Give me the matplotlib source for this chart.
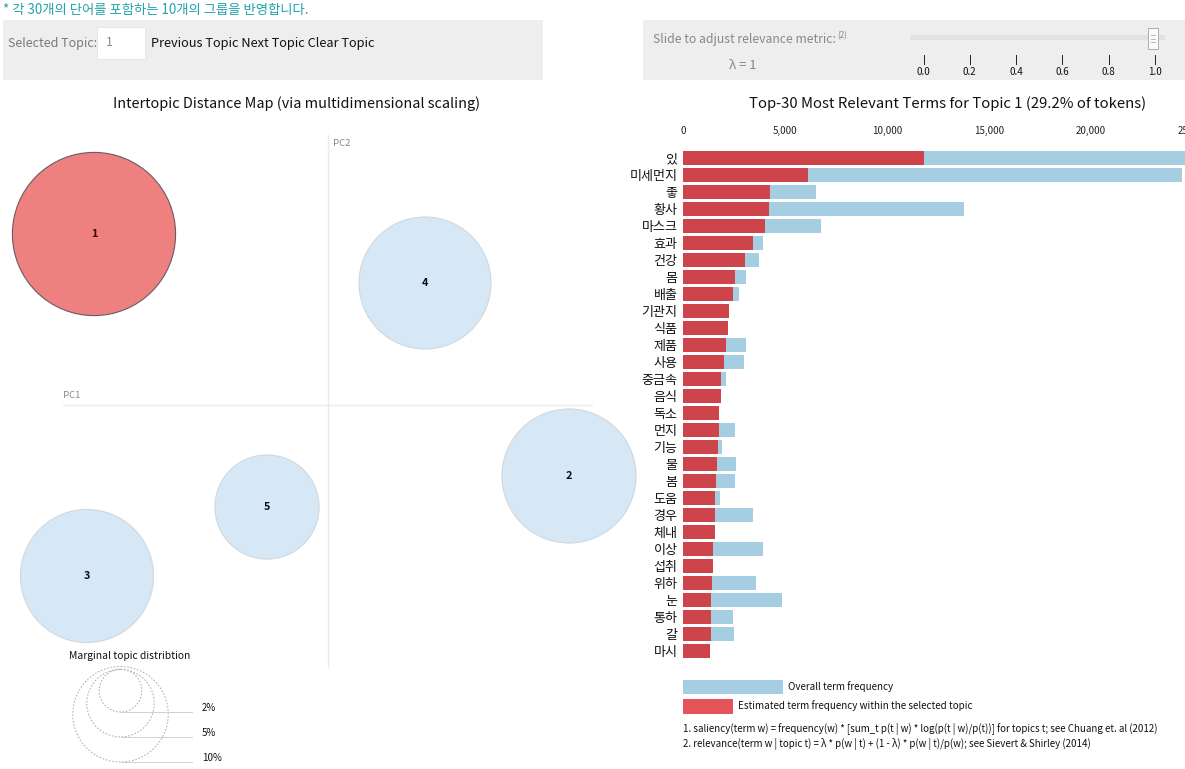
import matplotlib
matplotlib.use('Agg')
import matplotlib.pyplot as plt
from matplotlib.patches import Rectangle, Circle
from matplotlib.ticker import FuncFormatter
import numpy as np

plt.rcParams['font.family'] = ['Noto Sans CJK KR', 'DejaVu Sans']

# ---- data ----
terms = ['있', '미세먼지', '좋', '황사', '마스크', '효과', '건강', '몸', '배출', '기관지',
         '식품', '제품', '사용', '중금속', '음식', '독소', '먼지', '기능', '물', '봄',
         '도움', '경우', '체내', '이상', '섭취', '위하', '눈', '통하', '갈', '마시']
overall_freq = [26000, 24480, 6520, 13780, 6765, 3920, 3725, 3110, 2740, 2260,
                2220, 3090, 2990, 2110, 1880, 1770, 2550, 1910, 2600, 2550,
                1810, 3430, 1550, 3920, 1490, 3580, 4850, 2450, 2480, 1330]
topic_freq = [11800, 6130, 4255, 4205, 4010, 3410, 3040, 2550, 2450, 2250,
              2210, 2130, 2020, 1860, 1860, 1760, 1760, 1700, 1680, 1630,
              1570, 1550, 1550, 1480, 1480, 1420, 1390, 1390, 1360, 1320]

topic_ids = [1, 2, 3, 4, 5]
pc1 = [-0.234, 0.241, -0.241, 0.097, -0.061]
pc2 = [0.171, -0.071, -0.171, 0.122, -0.102]
topic_share = [29.2, 19.7, 19.4, 19.1, 11.9]   # % of tokens
legend_share = [2, 5, 10]
slider_ticks = [0.0, 0.2, 0.4, 0.6, 0.8, 1.0]
lam = 1.0

W, H = 1185, 769
fig = plt.figure(figsize=(W / 100, H / 100), dpi=100)


def frac(x0, y0, x1, y1):
    return [x0 / W, 1 - y1 / H, (x1 - x0) / W, (y1 - y0) / H]


bg = fig.add_axes([0, 0, 1, 1])
bg.set_xlim(0, W)
bg.set_ylim(H, 0)
bg.axis('off')

# header
bg.text(3, 10, '* 각 30개의 단어를 포함하는 10개의 그룹을 반영합니다.', color='#21a3a8',
        fontsize=9.6, va='center')
bg.add_patch(Rectangle((3, 20), 540, 60, color='#eeeeee', lw=0))
bg.text(8, 43, 'Selected Topic:', color='#7a7a7a', fontsize=9, va='center')
bg.add_patch(Rectangle((97, 27), 48, 32, facecolor='white', edgecolor='#e4e4e4', lw=0.6))
bg.text(106, 43, '1', color='#8a8a8a', fontsize=9, va='center')
bg.text(151, 43, 'Previous Topic Next Topic Clear Topic', color='#111111',
        fontsize=9.2, va='center')

bg.add_patch(Rectangle((643, 20), 545, 60, color='#eeeeee', lw=0))
bg.text(653, 40, 'Slide to adjust relevance metric:', color='#888888', fontsize=8.8,
        va='center')
bg.text(837, 36, '(2)', color='#888888', fontsize=5.8, va='center')
bg.text(743, 65, 'λ = %g' % lam, color='#888888', fontsize=9.4, va='center', ha='center')

# slider
sx = lambda v: 923.5 + 231.5 * v
bg.add_patch(Rectangle((910, 35), 255, 5, color='#e2e2e2', lw=0))
for v in slider_ticks:
    bg.plot([sx(v), sx(v)], [55, 64], color='#222222', lw=0.7)
    bg.text(sx(v), 72, '%.1f' % v, fontsize=7, ha='center', va='center', color='#111111')
hx = sx(lam) - 7
bg.add_patch(Rectangle((hx, 28), 10, 21, facecolor='#fafafa', edgecolor='#b9a9a0', lw=0.7))
for yy in (35, 38.5, 42):
    bg.plot([hx + 3, hx + 7], [yy, yy], color='#999999', lw=0.5)

# titles
bg.text(297, 104, 'Intertopic Distance Map (via multidimensional scaling)', fontsize=10.4,
        ha='center', va='center', color='#111111')
bg.text(948, 104, 'Top-30 Most Relevant Terms for Topic 1 (29.2% of tokens)', fontsize=10.7,
        ha='center', va='center', color='#111111')

# ---- intertopic distance map ----
scale = 1000.0  # px per PC unit
mds = fig.add_axes(frac(0, 130, 640, 668))
mds.set_xlim(-328 / scale, (640 - 328) / scale)
mds.set_ylim(-(668 - 405) / scale, (405 - 130) / scale)
mds.axis('off')
mds.plot([0, 0], [-(668 - 405) / scale, (405 - 135) / scale], color='#ebebeb', lw=1)
mds.plot([(63 - 328) / scale, (592 - 328) / scale], [0, 0], color='#ebebeb', lw=1)
mds.text(5 / scale, (405 - 143) / scale, 'PC2', fontsize=6.8, color='#888888', va='center')
mds.text((63 - 328) / scale, 9 / scale, 'PC1', fontsize=6.8, color='#888888', va='center')

rad = lambda p: 151 * np.sqrt(p / 100.0) / scale
for tid, x, y, p in zip(topic_ids, pc1, pc2, topic_share):
    if tid == 1:
        c = Circle((x, y), rad(p), facecolor='#ef8080', edgecolor='#6a5a66', lw=0.8)
    else:
        c = Circle((x, y), rad(p), facecolor='#d6e8f5', edgecolor='#d0d8de', lw=0.8)
    mds.add_patch(c)
    mds.text(x, y, str(tid), fontsize=7.8, fontweight='bold', ha='center', va='center',
             color='#3a0000' if tid == 1 else '#0a0a1a')

# marginal topic distribution legend
bg.text(130, 656, 'Marginal topic distribtion', fontsize=7.4, ha='center', va='center',
        color='#111111')
bottoms = {2: 712, 5: 737, 10: 762}
for p in legend_share:
    r = 151 * np.sqrt(p / 100.0)
    bottom = bottoms[p]
    bg.add_patch(Circle((120.5, bottom - r), r, fill=False, edgecolor='#b5b5b5',
                        lw=0.8, ls=(0, (1.5, 1.5))))
    bg.plot([120.5, 192], [bottom, bottom], color='#d0d0d0', lw=0.7)
    bg.text(202, bottom - 4, '%d%%' % p, fontsize=7, va='center', color='#111111')

# ---- bar chart ----
n = len(terms)
bar = fig.add_axes(frac(683, 149.5, 1193, 149.5 + 17 * n))
ypos = np.arange(n)
bar.barh(ypos, overall_freq, height=0.84, color='#a6cee3', lw=0)
bar.barh(ypos, topic_freq, height=0.84, color='#d62728', alpha=0.82, lw=0)
bar.set_xlim(0, 25000)
bar.set_ylim(n - 0.5, -0.5)
bar.set_yticks(ypos)
bar.set_yticklabels(terms, fontsize=9.4, color='#111111')
bar.xaxis.tick_top()
bar.set_xticks([0, 5000, 10000, 15000, 20000, 25000])
bar.xaxis.set_major_formatter(FuncFormatter(lambda v, _: '{:,.0f}'.format(v)))
bar.tick_params(axis='x', length=0, pad=10, labelsize=7, labelcolor='#222222')
bar.tick_params(axis='y', length=0, pad=4)
for s in bar.spines.values():
    s.set_visible(False)

# bar legend and notes
bg.add_patch(Rectangle((683, 680), 100, 14, color='#a6cee3', lw=0))
bg.text(788, 687, 'Overall term frequency', fontsize=7.1, va='center', color='#111111')
bg.add_patch(Rectangle((683, 699), 50, 15, color='#e5535b', lw=0))
bg.text(738, 706, 'Estimated term frequency within the selected topic', fontsize=7.1,
        va='center', color='#111111')
bg.text(683, 729, '1. saliency(term w) = frequency(w) * [sum_t p(t | w) * log(p(t | w)/p(t))]'
        ' for topics t; see Chuang et. al (2012)', fontsize=7.0, va='center', color='#111111')
bg.text(683, 744, '2. relevance(term w | topic t) = λ * p(w | t) + (1 - λ) * p(w | t)/p(w);'
        ' see Sievert & Shirley (2014)', fontsize=7.0, va='center', color='#111111')

fig.savefig('out.png', dpi=100)
